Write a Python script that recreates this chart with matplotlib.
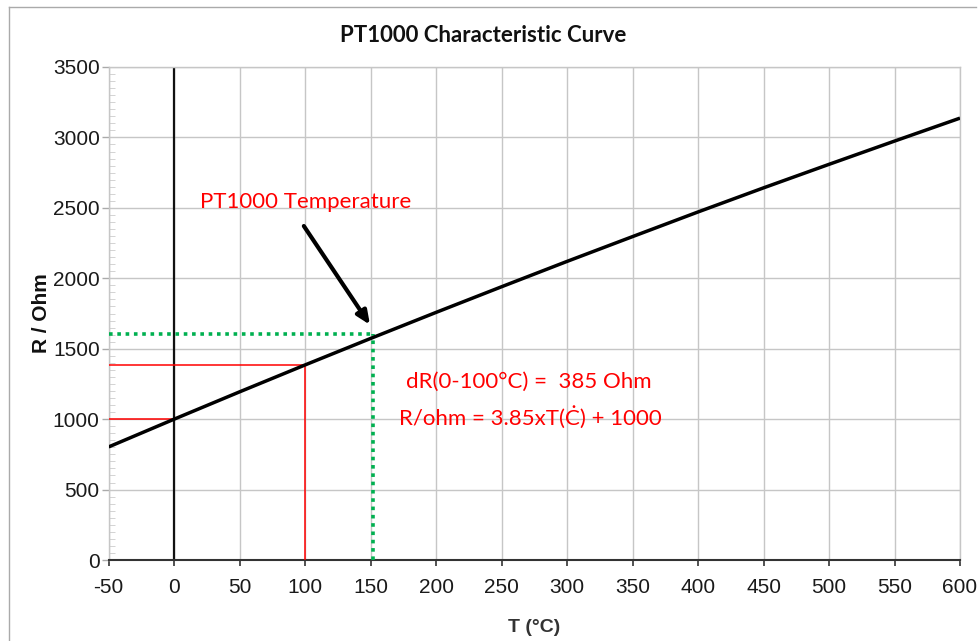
import matplotlib
matplotlib.use("Agg")
import matplotlib.pyplot as plt
from matplotlib.patches import Rectangle
from matplotlib.lines import Line2D

plt.rcParams['axes.unicode_minus'] = False

# readings (T in degC, R in Ohm)
temps = [-50, 0, 50, 100, 150, 200, 250, 300, 350, 400, 450, 500, 550, 600]
resist = [803, 1000, 1194, 1385, 1573, 1758, 1940, 2120, 2296, 2471, 2642, 2809, 2974, 3137]

# marked points
t_ref = 100
r_ref = 1385
r_zero = 1000
t_mark = 152
r_mark = 1605

x_ticks = list(range(-50, 601, 50))
y_ticks = list(range(0, 3501, 500))

title = "PT1000 Characteristic Curve"
note_arrow = "PT1000 Temperature"
note_1 = "dR(0-100°C) =  385 Ohm"
note_2 = "R/ohm = 3.85xT(Ċ) + 1000"

fig = plt.figure(figsize=(9.8, 6.41), dpi=100)
W, H = 980, 641
ax = fig.add_axes([108.7 / W, 1 - 560 / H, (960 - 108.7) / W, (560 - 67) / H])

ax.set_xlim(-50, 600)
ax.set_ylim(0, 3500)
ax.set_xticks(x_ticks)
ax.set_yticks(y_ticks)
ax.set_yticks(range(0, 3501, 50), minor=True)
ax.grid(True, which="major", color="#c6c6c6", lw=1.0, zorder=0)

ax.tick_params(axis="both", labelsize=15, labelcolor="#1a1a1a")
ax.tick_params(axis="x", which="major", direction="out", length=4, width=1.2, color="#333333", pad=9)
ax.tick_params(axis="y", which="major", direction="out", length=5, width=1, color="#aaaaaa", pad=1.5)
ax.tick_params(axis="y", which="minor", direction="in", length=4, width=0.6, color="#cccccc")
for lab in ax.get_xticklabels() + ax.get_yticklabels():
    lab.set_fontfamily("Liberation Sans")

for s in ["top", "right", "left"]:
    ax.spines[s].set_color("#c6c6c6")
    ax.spines[s].set_linewidth(1.0)
ax.spines["bottom"].set_color("#333333")
ax.spines["bottom"].set_linewidth(1.5)

# black vertical at 0
ax.axvline(0, color="#111111", lw=1.6, zorder=2)

# red helper lines
ax.plot([-50, t_ref], [r_ref, r_ref], color="red", lw=1.1, zorder=3)
ax.plot([t_ref, t_ref], [0, r_ref], color="red", lw=1.1, zorder=3)
ax.plot([-50, 0], [r_zero, r_zero], color="red", lw=1.1, zorder=3)

# green dotted helper lines
ax.plot([-50, t_mark], [r_mark, r_mark], color="#00b050", lw=2.6, ls=(0, (1, 1.3)), zorder=3)
ax.plot([t_mark, t_mark], [0, r_mark], color="#00b050", lw=2.6, ls=(0, (1, 1.3)), zorder=3)

# curve
ax.plot(temps, resist, color="black", lw=2.5, zorder=4, solid_capstyle="butt")

# white boxes behind the notes
ax.add_patch(Rectangle((12, 2400), 178, 276, facecolor="white", edgecolor="none", zorder=1.5))
ax.add_patch(Rectangle((165, 873), 217, 675, facecolor="white", edgecolor="none", zorder=1.5))

ax.text(100, 2540, note_arrow, color="red", fontsize=16, family="Lato", ha="center", va="center", zorder=5)
ax.annotate("", xy=(149.5, 1670), xytext=(99, 2371),
            arrowprops=dict(arrowstyle="-|>,head_length=0.8,head_width=0.35", color="black", lw=3,
                            shrinkA=0, shrinkB=0), zorder=5)
ax.text(271, 1264, note_1, color="red", fontsize=16, family="Lato", ha="center", va="center", zorder=5)
ax.text(272, 1015, note_2, color="red", fontsize=16, family="Lato", ha="center", va="center", zorder=5)

ax.set_xlabel("T (°C)", fontsize=14, fontweight="bold", family="Liberation Sans", color="#333333", labelpad=16)
ax.set_ylabel("R / Ohm", fontsize=15, fontweight="bold", family="Liberation Sans", color="#111111", labelpad=1)

fig.text(483 / W, 1 - 35 / H, title, fontsize=16, fontweight="bold", family="Lato",
         ha="center", va="center", color="#111111")

# outer frame
fig.add_artist(Line2D([9 / W, 9 / W], [0, 1 - 7 / H], transform=fig.transFigure, color="#aaaaaa", lw=1))
fig.add_artist(Line2D([9 / W, 976 / W], [1 - 7 / H, 1 - 7 / H], transform=fig.transFigure, color="#aaaaaa", lw=1))

fig.savefig("out.png", dpi=100)
